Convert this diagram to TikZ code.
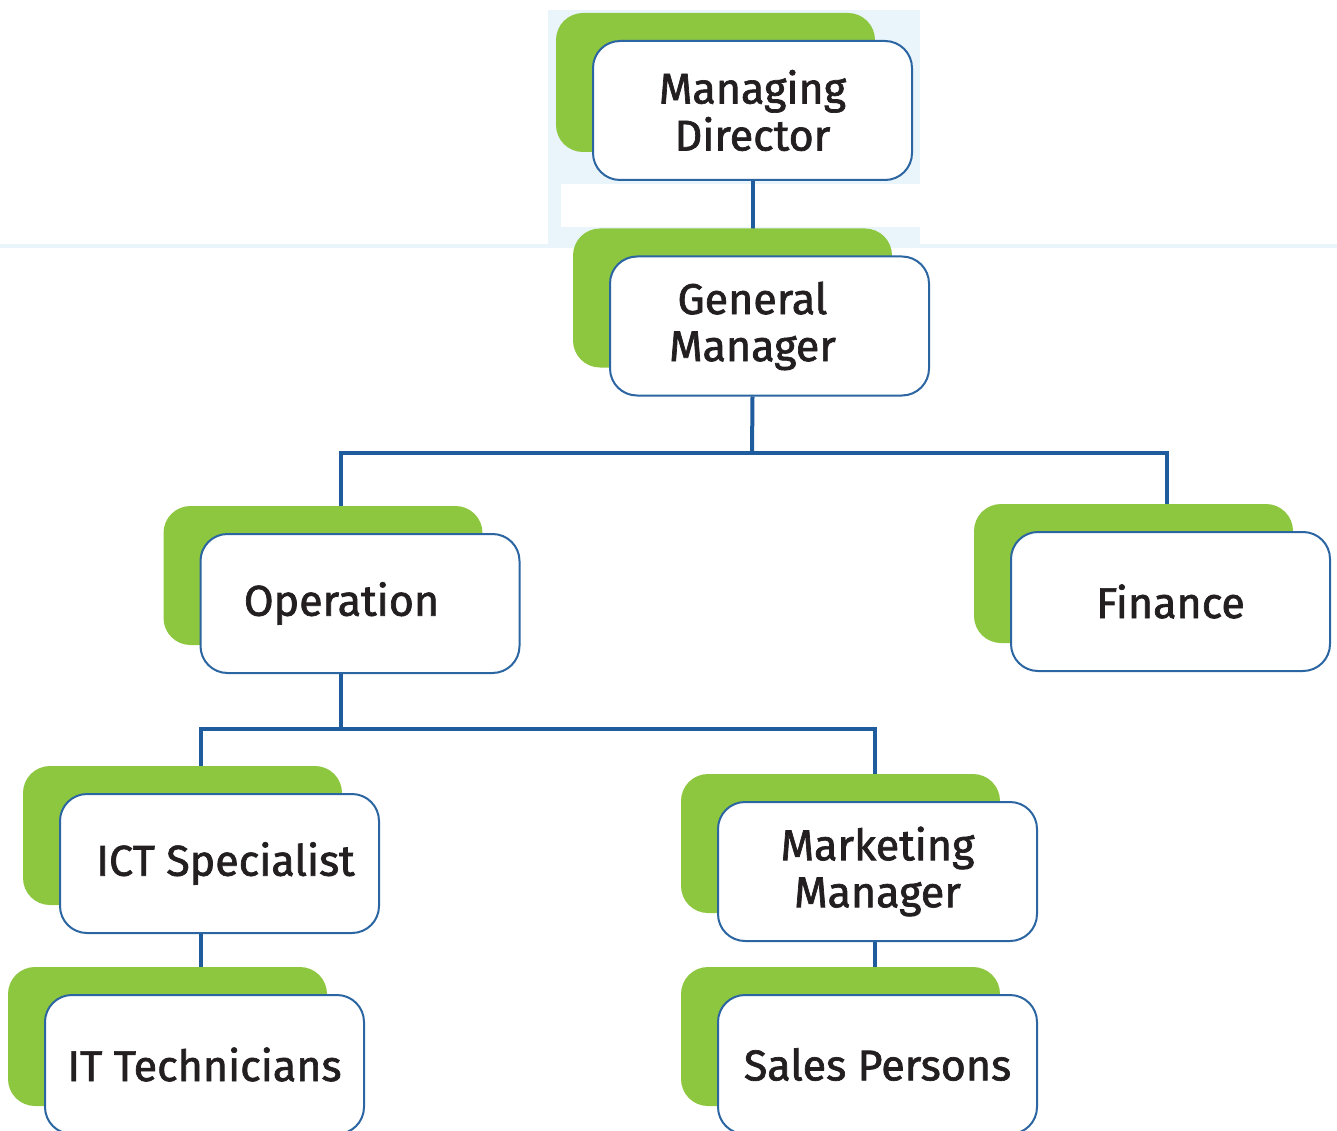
\documentclass[tikz,border=0pt]{standalone}
\usepackage{fontspec}
\setmainfont{Fira Sans}[FakeBold=1.6]
\usetikzlibrary{shadows, backgrounds}
\definecolor{lineBlue}{HTML}{1F5C9E}
\definecolor{edgeBlue}{HTML}{2B65A2}
\definecolor{leafGreen}{HTML}{8DC63F}
\definecolor{inkDark}{HTML}{231F20}
\definecolor{paleBlue}{HTML}{EAF4FB}
\tikzset{
    orgbox/.style={draw=edgeBlue, line width=2pt, fill=white, rounded corners=27pt,
        minimum width=319pt, minimum height=139pt, inner sep=0pt, align=center,
        text=inkDark, font=\fontsize{43}{47}\selectfont,
        copy shadow={shadow xshift=-37pt, shadow yshift=28pt, fill=leafGreen, draw=none}},
    link/.style={draw=lineBlue, line width=4pt}
}

\begin{document}
\begin{tikzpicture}[x=1pt, y=-1pt]
        \useasboundingbox (0,0) rectangle (1337,1131);

        % Boxes
        \node[orgbox] (md) at (752.5,110.5) {Managing\\Director};
        \node[orgbox] (gm) at (769.5,326) {\hspace*{-34pt}General\\\hspace*{-34pt}Manager};
        \node[orgbox] (op) at (360,603.5) {\hspace*{-37pt}Operation};
        \node[orgbox] (fin) at (1170.5,601.5) {Finance};
        \node[orgbox] (ict) at (219.5,863.5) {\hspace*{12pt}ICT Specialist};
        \node[orgbox] (mkt) at (877.5,871.5) {Marketing\\Manager};
        \node[orgbox] (itt) at (204.5,1064.5) {IT Technicians};
        \node[orgbox] (sal) at (877.5,1064.5) {Sales Persons};

        % Branch points
        \coordinate (splitA) at (752,453);
        \coordinate (opDrop) at (341,453);
        \coordinate (finDrop) at (1167,453);
        \coordinate (splitB) at (341,729);
        \coordinate (ictDrop) at (201,729);
        \coordinate (mktDrop) at (875,729);

        \begin{scope}[on background layer]
            % pale scan patch
            \fill[paleBlue] (548,10) rectangle (920,248);
            \fill[white] (561,184) rectangle (920,227);
            \fill[paleBlue] (0,244) rectangle (1337,248);

            % Connectors
            \draw[link] (md.south) -- (md.south |- gm.north);
            \draw[link] (gm.south -| md.south) -- (splitA);
            \draw[link] (op.north -| opDrop) -- (opDrop) -- (finDrop) -- (fin.north -| finDrop);
            \draw[link] (op.south -| splitB) -- (splitB);
            \draw[link] (ict.north -| ictDrop) -- (ictDrop) -- (mktDrop) -- (mkt.north -| mktDrop);
            \draw[link] (ict.south -| ictDrop) -- (itt.north -| ictDrop);
            \draw[link] (mkt.south -| mktDrop) -- (sal.north -| mktDrop);
        \end{scope}
    \end{tikzpicture}
\end{document}
